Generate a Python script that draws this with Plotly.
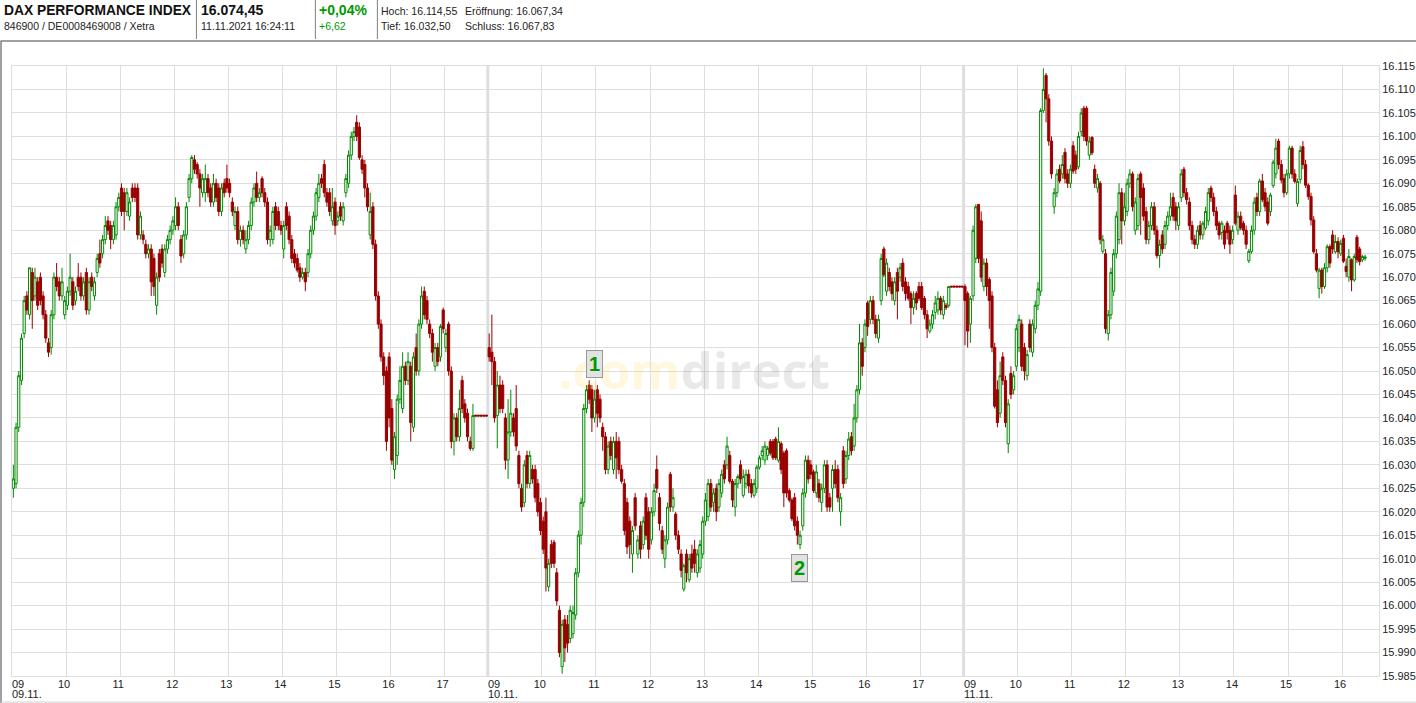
import plotly.graph_objects as go

# Prices are stored as points above BASE (16.000); each row holds about 20 three-minute candles.
BASE = 16000
opens = [
25,26,38,48,58,66,62,71,66,69,70,66,62,56,55,62,70,69,66,62,
64,67,69,65,70,70,66,71,63,70,66,71,75,75,78,82,81,78,79,
85,89,88,84,83,89,89,89,79,79,77,75,76,74,64,75,76,71,76,78,
80,81,85,78,75,79,87,91,95,94,92,88,88,91,89,86,90,89,84,90,
91,90,86,81,84,78,80,76,78,81,86,90,87,91,88,86,78,78,85,84,
81,76,85,83,78,75,74,72,70,71,71,75,80,83,87,91,94,88,88,82,
86,82,85,82,88,90,96,100,103,102,95,94,89,79,85,77,66,60,53,50,
53,42,29,32,44,42,51,48,51,38,55,50,60,67,65,60,58,51,55,53,
63,55,60,50,35,40,36,48,43,41,35,33.5,40.6,40.6,40.6,40.6,40.6,
55,54,52,40.5,47,47,40,31,37,40,42,32,25,22,32,26,29,29,26,
22,18,20,4,13,13.5,7,-1,-13,-3,-4,-7,-6,-2,7,15,22,42,47,46,
40,46,44,38,36,29,35,29,35,35,29,26,22,18,11,23,11,17,13,23,
20,14,20,29,23,16,10,14,28,21,19.5,15,11,3.5,11,5.5,11,12,7,8,
11,18,19,26,22,25,21,24,30,30,32,26.5,21,26,30,23.5,26,28,26,23.5,
25,29.5,32,31,32,35,35,35.5,31,34.5,32.5,33,24.5,22.5,23,18,13,17,24,31,
30,28.5,24,26,22,25,30,23,25,29,29,20,33,27,32,36,34,40,46,56,
55,64.5,61,65,61,57,65,76,67,71,69,65,71,70,73,69,68,66.5,63.5,66.5,
68,68,65.5,62,58.5,60,62.5,63,65.5,62,64,64,68.1,68.1,68.1,68.1,68.1,
68,66.5,60,66,74,85.5,82,68,73,69.5,66,55,46,41,53,48,34.5,49.5,46,
51,55,60,55,49,60,54,59,64,67,105.5,113,108,99,85,88,93,92,96.6,92,
90,98,96,93.5,101,106,106,96,99.8,93,89,90,75.5,75,58,62,67,75,78,88,
82,84,90,92,80,81,92,89,84,78,81,85,80,74.6,79,77,81,83,87,85,
81,87,93,88,86,81,78,77,81,79,80.5,82,89,87,84,81.5,79.5,80,81.5,80,
78,87.5,80,83,81.5,80,73.5,75.5,80,87,84,90.5,88,86,84,89.5,92,99,94,91,
88,92,97.5,92,85.7,90.8,97.8,94,89.6,87.2,82.2,75,67.6,71.5,68,72,76.5,79,75.4,77.6,
75,78.3,72.3,70,73.7,69.4,78.5,76,73.7,74,
]
closes = [
27,38,49,57,65,63,72,65,70,64,65,62,57,54,62,70,68,66,69,65,
67,70,64,67,68,66,69,63,69,68,69,74,73,78,81,80,78,81,85,
87,84,84,88,86,87,87,79,83,78,75,76,69,68,70,70,73,76,78,80,
82,85,81,74.5,79,85,91,95.5,93,92,89,91,91,88,86,90,87,84,89,88,
89,88,84,84,78,80,78,78,81,86,89,87,88,88,86,78,80,84,81,81,
80,81,81,78,74,73,71.5,70,71,69,75,80,83,88,90,90,88,86,84,85,
81,83,83,85,91,96,100,101,100,95.5,93,89,85,84,77,66,60,53,49,35,
40,31,36,44,48,51,48,52,39,53,50,60,66,62,61,58,54,55,52,59.5,
59,58,50,35,40,36,42,42,40,36,33.5,40.5,40.4,40.4,40.4,40.4,40.4,
53,52,40,47,42,42,31,37,41,37,34,26,21,30,26,32,27,23,20,
16,12,8,9,9,9,1,-10,-4,-9,-8,-1,-1.5,7,15,22,42,46,44,40,
44,41,40,36,29,34,32,35,31.5,29,26.5,16,12.5,13,16,17,14,12,18,15,
12,20,24.5,25,17.5,12,14,21,21,23,15,12,7.5,8.5,7,10,8,9,11,13,
18,22.5,26,21,24,20,26,28,27,34,26.5,22.5,26,27.5,27,27.5,28,25.5,24,26,
29.5,31.5,33,34,33.5,32.5,31.5,31.5,35,29,24,24,22.5,18.5,17,15,15,24,31,27,
28,24.5,28.5,23,25,30,21,21,29,26,23,23,26,32,35.5,33,40,46,56,51,
60,59.5,65,61,58,61,74,70.5,73,68,66.5,69,67,72,68,66.5,65.5,63.5,65.5,64.5,
65.5,63.5,62,59,60,62,64.5,65.5,63,65,63.5,68,67.9,67.9,67.9,67.9,67.9,
65,58.5,65.5,80,85,74,70,73,68,65,55,42.5,39,49,48,39,43,45,49,
59,61,51,50,53.5,55,60,64,67.5,105.5,110,108,99,92,88,92,90.5,94,91,90,
93,92.6,93,100,105,100,99,99,96.5,90,91,78,78,59,62,71,75,83,88,82,
85,90,92,85,86,91,87,83,78,81,85,80,74.6,77,76,81,83,85,83,82,
85,92,88,86.5,81,78,77,80,79,81.5,84,88,87,84,81,79,81.5,77,79.5,77,
80,81.5,83,80.5,80,77,75.5,80,86,84,90.5,86.5,85,81.5,87.5,94.5,97.5,94,90.7,88,
92,97.5,92,90.4,90.4,97,94,89.6,87.2,82.2,75.4,71.5,71.5,68,72,76.5,73,76,77.6,75.4,
77.2,73.4,71.2,74.4,69.4,74.4,73.7,73.3,74.4,74.3,
]
highs = [
30,39,50,58,66,67,72,72,72,70,71,67,63,57,63,71,73,70,72,66,
68,75,70,68,73,71,70,72,70,71,70,75,78,79,83,83,82,82,86,
88,90,89,89,87,90,90,90,84,80,78,77,77,75,71,76,77,77,79,81,
83,87,86,79,80,86,92,96,96,94.5,93,92,94,92,90,92,91,90,90,91,
94,91,87,85,85,81,81,80,82,87,90,92.5,89,91.5,89,87,81,85,86,85,
82,82,86,84,79,76,75,73,72,72,76,81,84,89,92,92,95,89,89,89,
87,84,86,86,92,97,101,102,104.5,103,96,95,90,88,86,78,67,61,54,51,
54,44,37,45,51,54,52,54,52,54,58,61,68,68,66,61,59,56,56,60,
63.5,59,60.5,51,41,41,46,49,44,42,36,43,40.6,40.6,40.6,40.6,40.6,
58,62,53,50,49,48,41,44,46,41,47,33,26,31,33,33,30,30,27,
23,19,23,10,14,14,8,0,-3,-2,-2,0,0,8,16,23,43,47,48,47,
46,47,45,39,37,35,36,36,37,36,30,27,23,19,17,24,15,18,19,24,
21,21,26,32,24,17,15,22,28.5,25,20,16,12,9,12,11,13,14,12,14,
19,24,27,27,25,26,27,29,31,36,33,27,27,28,31,29,29,29,27,27,
30,32,34,35,34,35.5,35.5,36,38,35,33,33.5,25,23,24,19,16,25,32,32,
31,29,30,27,26,31,31,24,30,31,30,24,34,33,37,37,43,47,60,57,
61,65,66,66,62,62,75,76.5,74,72,70,70,72,73,74,70,69,67,67,67,
69,69,66,63,61,63,66,67,66,66,64.5,68,68.1,68.1,68.1,68.1,68.1,
68.5,67,66,81,85.5,85.5,84,74,74,70,67,56,48,52,54,49,44,51,50,
60,62,61,56,54.5,61,61,65,69,106,114.5,113.5,109,100,89,93,94,96,97.5,93,
94,99,97,101,106,106.5,106.5,100,100,94,92,90.5,79,76,63,72,76,84,90,89,
88,91,93,92.5,87,92,92.5,90,85,82,86,86,81,78,80,82,84,88,88,86,
86,93,93.5,89,87,82,79,81,82,82,85,89,89.5,88,85,82,82,81,82,81,
81,89.5,84,84,82,81,76,81,87,88,91,92,89,87,88,95,99.5,99.5,95,92,
93,98,98,93,91,98,99,95,90,88,83,76,72,72,73,77,77,80,79,78.5,
78,79,74,76,74,75,79,76.5,74.8,74.8,
]
lows = [
23,25,37,47,57,62,61,59,65,63,64,61,56,53,53.5,61,67,65,65,61,
63,66,63,64,67,65,65,62,62,67,65,70,72,74,77,79,76,77,78,
84,83,80,83,82,86,86,78,78,77,74,74,66,66,62,69,72,70,75,77,
79,80,80,73,74,78,86,90,92,91,85,87,86,87,85,85,86,83,83,87,
88,87,83,80,77,76.5,77,75,77,80,85,86,86,87,85,77,76.5,77,80,80,
79,74,80,77,73,72,71,69,69.5,67,70,74,79,82,86,89,87,85,83,81,
79,81,82,81,87,89,95,99,99,95,92,87,84,78,76,65,59,52,47,33,
38,30,27,30,43,41,47,47,35,37,49,49,59,61,60,57,52,50,51,52,
58,54,49,33.5,32,35,35,41,39,35,33,33,40.4,40.4,40.4,40.4,40.4,
52,47,39,33.5,41,41,29,27,36,36,33,25,20,21,25,25,26,22,19,
15,11,3,3,8,8,0,-11,-14.5,-12,-10,-8,-7,-3,6,13,21,41,43,37,
39,38,39,33,28,28,31,28,27,28,26,15,11,10,7,16,10,10,12,14,
10,13,19,24,16,11,8,13,20,20,14,11,6,3,5,5,7,7,6,7,
10,17,18,20,20,18,20,23,26,29,26,21,19,25,26,23,25,24,23,23,
24,29,31,30,31,32,31,31,30.5,28,21,23,22,18,16,13,12,16,23,26,
27,24,23,22,20,24,20,20,20,25,22,17,25,26,31,32,33,39,45,49,
54,57.5,60,60,57,56,64,70,66,67,65,64,61,69,67,65,65,60,62,63,
65,63,61,57,58,59,61,62,62,61,63,63.5,67.9,67.9,67.9,67.9,67.9,
55.5,55,56,65,73,73,69,67,66,59,54,42,38,40,47,38,32.5,44,45,
50,54,50,48,48,54,53,58,63,66,105,103,98,91,83.5,87,90,91,90,89,
89,92,92,93,100,99,98,95,96,89,88,77,75,58,56.5,61,66,74,77,77,
81,83,89,84,79,80,79,82,77,77,80,79,74,72,75,76,80,82,82,80,
80,86,87,85.5,80,77,76,76,78,78,80,81,86,83,80,78,78,76,78,75,
77,81,79,80,79,76,73,75,79,83,83,86,84,81,83,89,91,93,90,87,
87.5,91,91,90,85,90,93,89,86.5,81,75,71,65.5,66.5,67.5,71,72,75,75,74,
74.5,73,70,69,67,69,73,72.5,73.2,73.5,
]

y_tick_values = [16115,16110,16105,16100,16095,16090,16085,16080,16075,16070,16065,16060,16055,16050,16045,16040,16035,16030,16025,16020,16015,16010,16005,16000,15995,15990,15985]
y_tick_labels = ["16.115","16.110","16.105","16.100","16.095","16.090","16.085","16.080","16.075","16.070","16.065","16.060","16.055","16.050","16.045","16.040","16.035","16.030","16.025","16.020","16.015","16.010","16.005","16.000","15.995","15.990","15.985"]
hour_slots = [20,40,60,80,100,120,140,160, 196,216,236,256,276,296,316,336, 372,392,412,432,452,472,492]
hour_labels = ["10","11","12","13","14","15","16","17", "10","11","12","13","14","15","16","17", "10","11","12","13","14","15","16"]
day_slots = [0,176,352]
day_labels = ["09.11.","10.11.","11.11."]

W, H = 1416, 703
L, R, T, B = 11.5, 1379, 66, 676
SLOT = (R - L) / 505.65
fx = lambda p: (p - L) / (R - L)
fy = lambda p: (B - p) / (B - T)
to_x = lambda p: (p - L) / SLOT
to_y = lambda p: 16115 - (p - T) * 130 / (B - T)

GREEN, RED, GRID = "#008a00", "#990000", "#dedede"
FONT = "Liberation Sans"

fig = go.Figure(go.Candlestick(
    x=[i + 0.5 for i in range(len(opens))],
    open=[BASE + v for v in opens], high=[BASE + v for v in highs],
    low=[BASE + v for v in lows], close=[BASE + v for v in closes],
    increasing=dict(line=dict(color=GREEN, width=1), fillcolor="white"),
    decreasing=dict(line=dict(color=RED, width=1), fillcolor=RED),
    whiskerwidth=0, hoverinfo="skip", showlegend=False,
))

shapes = []
for s in day_slots[1:]:
    shapes.append(dict(type="line", xref="x", yref="paper", x0=s, x1=s, y0=0, y1=1,
                       line=dict(color=GRID, width=3), layer="below"))
shapes.append(dict(type="line", xref="paper", yref="paper", x0=fx(0), x1=fx(W), y0=fy(41), y1=fy(41), line=dict(color="#808080", width=1.5)))
shapes.append(dict(type="line", xref="paper", yref="paper", x0=fx(0.5), x1=fx(0.5), y0=fy(41), y1=fy(H), line=dict(color="#808080", width=1.5)))
shapes.append(dict(type="line", xref="paper", yref="paper", x0=fx(0), x1=fx(W), y0=fy(702), y1=fy(702), line=dict(color="#d0d0d0", width=1)))
for p in (196, 315, 377):
    shapes.append(dict(type="line", xref="paper", yref="paper", x0=fx(p), x1=fx(p), y0=fy(0), y1=fy(39), line=dict(color="#808080", width=1)))

def text(px, py, s, size=10.5, bold=False, color="#222222"):
    return dict(xref="paper", yref="paper", x=fx(px), y=fy(py), text=f"<b>{s}</b>" if bold else s,
                showarrow=False, xanchor="left", yanchor="middle", align="left",
                font=dict(family=FONT, size=size, color=color), borderpad=0)

ann = [
    text(2, 10, "DAX PERFORMANCE INDEX", 13.8, True, "#111111"),
    text(2, 26, "846900 / DE0008469008 / Xetra", 10.5),
    text(200, 10, "16.074,45", 14, True, "#111111"),
    text(200, 26, "11.11.2021 16:24:11", 10.5),
    text(318, 10, "+0,04%", 14, True, "#009900"),
    text(318, 26, "+6,62", 10.5, False, "#009900"),
    text(380, 11, "Hoch: 16.114,55", 10.5),
    text(464, 11, "Eröffnung: 16.067,34", 10.5),
    text(380, 26, "Tief: 16.032,50", 10.5),
    text(464, 26, "Schluss: 16.067,83", 10.5),
]
for s, d in zip(day_slots, day_labels):
    for label, py in (("09", 684), (d, 694)):
        ann.append(dict(xref="x", yref="paper", x=s, y=fy(py), text=label, showarrow=False,
                        xanchor="left", yanchor="middle", align="left", borderpad=0, xshift=-1,
                        font=dict(family=FONT, size=11, color="#222222")))
# faint watermark
ann.append(dict(xref="x", yref="y", x=to_x(694), y=to_y(369), showarrow=False,
                text='<b><span style="color:rgba(255,205,60,0.17)">.com</span><span style="color:rgba(110,110,110,0.15)">direct</span></b>',
                font=dict(family="Open Sans", size=51), xanchor="center", yanchor="middle"))
# numbered signal badges
for label, bx, by in (("1", 594.5, 364), ("2", 799.5, 567.5)):
    ann.append(dict(xref="x", yref="y", x=to_x(bx), y=to_y(by), text=f"<b>{label}</b>", showarrow=False,
                    width=15, height=26, bgcolor="#e2e2e2", bordercolor="#999999", borderwidth=1, borderpad=0,
                    font=dict(family=FONT, size=20, color="#009900")))

fig.update_layout(
    width=W, height=H, margin=dict(l=L, r=W - R, t=T, b=H - B, autoexpand=False),
    paper_bgcolor="white", plot_bgcolor="white", showlegend=False, boxgap=0.2, boxgroupgap=0,
    font=dict(family=FONT, size=11, color="#222222"),
    shapes=shapes, annotations=ann,
    xaxis=dict(range=[0, 505.65], rangeslider=dict(visible=False), type="linear",
               tickmode="array", tickvals=day_slots + hour_slots, ticktext=[""] * 3 + hour_labels,
               showgrid=True, gridcolor=GRID, gridwidth=1, zeroline=False, showline=True,
               linecolor=GRID, mirror=True, ticks="", ticklabelstandoff=-2, ticklabelshift=-2,
               tickfont=dict(family=FONT, size=11, color="#222222")),
    yaxis=dict(range=[15985, 16115], side="right", tickmode="array", tickvals=y_tick_values, ticktext=y_tick_labels,
               showgrid=True, gridcolor=GRID, gridwidth=1, zeroline=False, showline=True,
               linecolor=GRID, mirror=True, ticks="", tickfont=dict(family=FONT, size=11, color="#222222")),
)
fig.write_html("out.html", config=dict(displayModeBar=False),
               post_script="document.body.style.margin='0';document.body.style.overflow='hidden';")
